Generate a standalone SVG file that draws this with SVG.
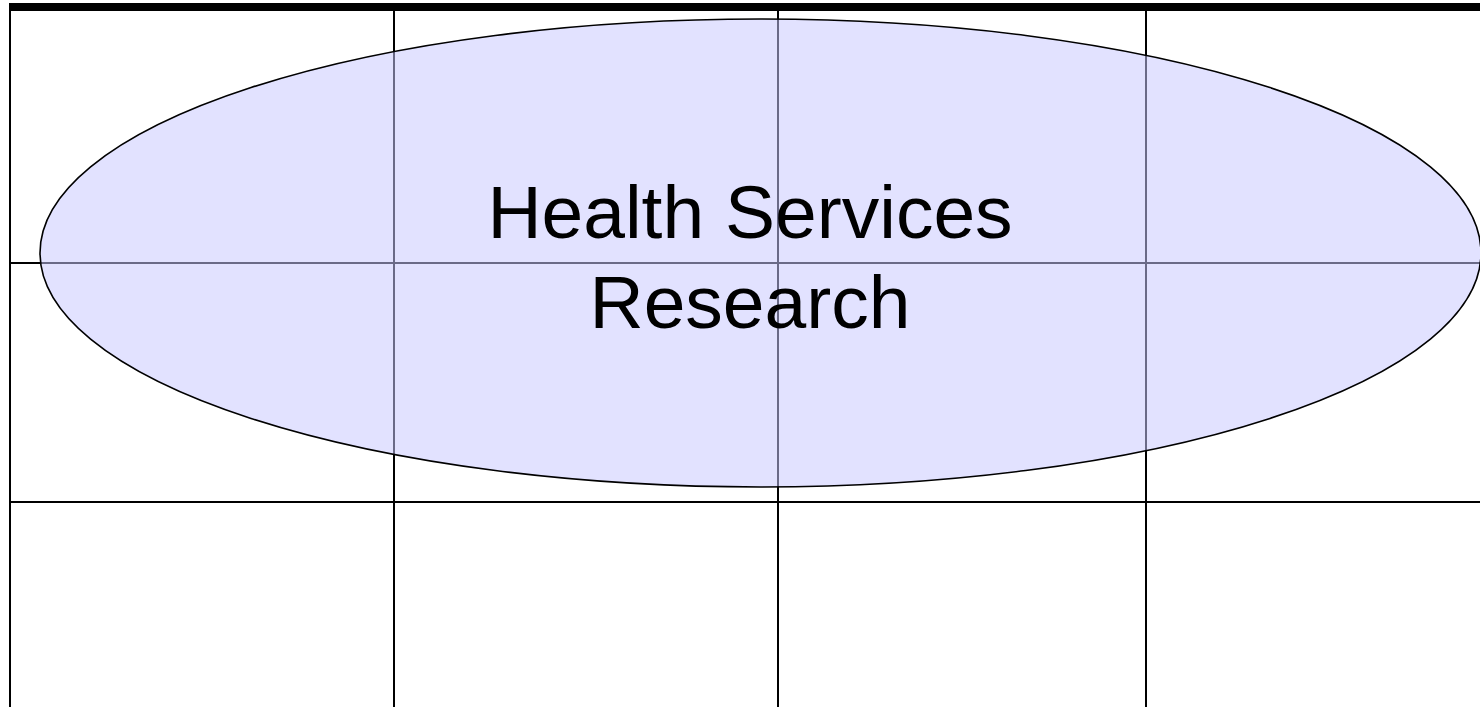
<svg xmlns="http://www.w3.org/2000/svg" width="1480" height="707" viewBox="0 0 1480 707">
<style>
.grid{stroke:#000;stroke-width:2;fill:none}
.oval{fill:#c8c8ff;fill-opacity:0.53;stroke:#000;stroke-width:1.6}
.lbl{font-family:"Liberation Sans",Arial,sans-serif;font-size:75px;fill:#000;text-anchor:middle}
</style>
<rect x="0" y="0" width="1480" height="707" fill="#fff"/>
<g id="table">
<rect x="9" y="3" width="1471" height="8" fill="#000"/>
<line class="grid" x1="10" y1="7" x2="10" y2="707"/>
<line class="grid" x1="394" y1="7" x2="394" y2="707"/>
<line class="grid" x1="778" y1="7" x2="778" y2="707"/>
<line class="grid" x1="1146" y1="7" x2="1146" y2="707"/>
<line class="grid" x1="10" y1="263" x2="1480" y2="263"/>
<line class="grid" x1="10" y1="502" x2="1480" y2="502"/>
</g>
<g id="health-services-research">
<ellipse class="oval" cx="760.5" cy="253" rx="720.5" ry="234"/>
<text class="lbl" x="750" y="238">Health Services</text>
<text class="lbl" x="750" y="328">Research</text>
</g>
</svg>
